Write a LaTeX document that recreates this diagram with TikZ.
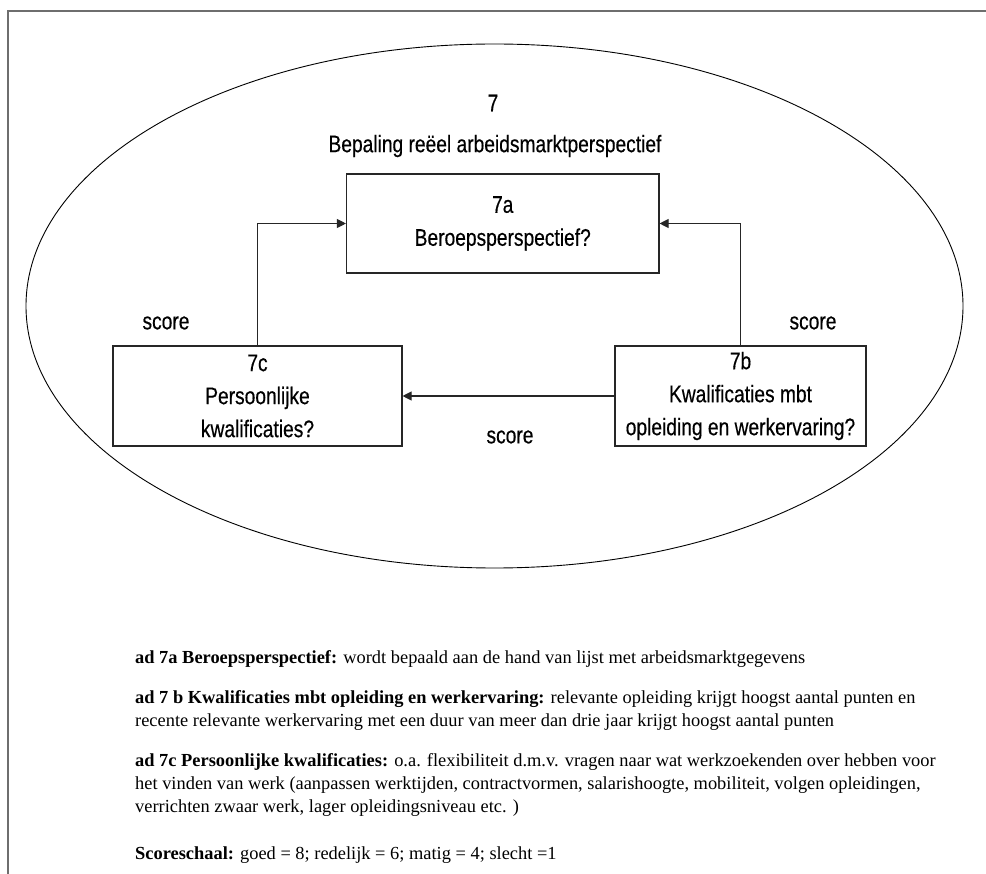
\documentclass[tikz,border=0pt]{standalone}
\usepackage{fontspec}
\setmainfont{Liberation Serif}
\newfontfamily\diagfont[FakeStretch=0.8,FakeBold=0.4]{Liberation Sans}
\usetikzlibrary{shapes.geometric,arrows.meta}

\definecolor{framegray}{HTML}{6E6E6E}

\tikzset{
  diag/.style={font=\diagfont\fontsize{24}{33}\selectfont},
  boxnode/.style={diag, draw=black!85, line width=1.1pt, rectangle, inner sep=0pt, align=center},
  arr/.style={draw=black!85, line width=1.1pt, -{Triangle[length=9pt,width=9pt]}},
  note/.style={font=\fontsize{18.4}{23}\selectfont, anchor=base west, inner sep=0pt},
}

\begin{document}
\begin{tikzpicture}[x=1pt,y=-1pt]
  \useasboundingbox (0,0) rectangle (986,874);

  % outer frame (top and left edges only)
  \coordinate (ftl) at (8,11);
  \coordinate (ftr) at (986,11);
  \coordinate (fbl) at (8,874);
  \draw[framegray, line width=1.5pt] (ftr) -- (ftl) -- (fbl);

  % enclosing ellipse
  \node[draw, ellipse, line width=0.9pt, minimum width=937pt, minimum height=524pt, inner sep=0pt] (outer) at (494.5,306) {};

  % heading
  \node[diag] (t7) at (493,103) {7};
  \node[diag] (ttl) at (495,146) {Bepaling reëel arbeidsmarktperspectief};

  % boxes
  \node[boxnode, minimum width=312.5pt, minimum height=99pt] (a7) at (502.75,223.5) {7a\\Beroepsperspectief?};
  \node[boxnode, minimum width=289pt, minimum height=100pt] (c7) at (257.5,396) {7c\\Persoonlijke\\kwalificaties?};
  \node[boxnode, minimum width=251pt, minimum height=100pt] (b7) at (740.5,396) {7b\\Kwalificaties mbt\\opleiding en werkervaring?};

  % connectors
  \draw[arr] (c7.north) |- (a7.west);
  \draw[arr] (b7.north) |- (a7.east);
  \draw[arr] (b7.west) -- (c7.east);

  % connector labels
  \node[diag] (s1) at (166,323) {score};
  \node[diag] (s2) at (813,323) {score};
  \node[diag] (s3) at (510,437) {score};

  % explanatory notes
  \node[note] (l1) at (135,663) {\textbf{ad 7a Beroepsperspectief:} wordt bepaald aan de hand van lijst met arbeidsmarktgegevens};
  \node[note] (l2) at (135,703) {\textbf{ad 7 b Kwalificaties mbt opleiding en werkervaring:} relevante opleiding krijgt hoogst aantal punten en};
  \node[note] (l3) at (135,726) {recente relevante werkervaring met een duur van meer dan drie jaar krijgt hoogst aantal punten};
  \node[note] (l4) at (135,766) {\textbf{ad 7c Persoonlijke kwalificaties:} o.a. flexibiliteit d.m.v. vragen naar wat werkzoekenden over hebben voor};
  \node[note] (l5) at (135,789) {het vinden van werk (aanpassen werktijden, contractvormen, salarishoogte, mobiliteit, volgen opleidingen,};
  \node[note] (l6) at (135,812) {verrichten zwaar werk, lager opleidingsniveau etc. )};
  \node[note] (l7) at (135,859) {\textbf{Scoreschaal:} goed = 8; redelijk = 6; matig = 4; slecht =1};
\end{tikzpicture}
\end{document}
